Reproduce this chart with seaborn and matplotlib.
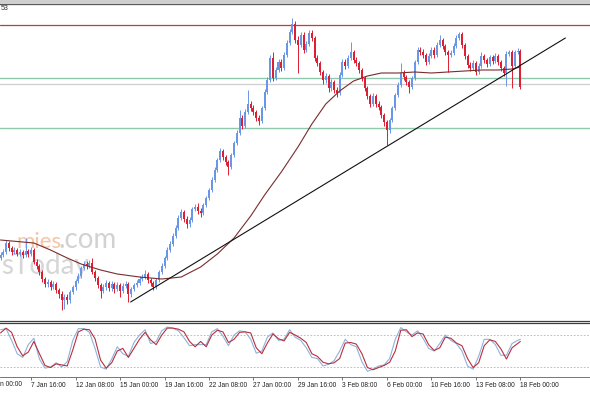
import numpy as np
import pandas as pd
import seaborn as sns
import matplotlib
matplotlib.use("Agg")
import matplotlib.pyplot as plt
from matplotlib.patches import Rectangle
from matplotlib.transforms import ScaledTranslation

# ---------------- data (price in chart points, 4H candles) ----------------
first_open = 62
closes = [65, 68, 77, 72, 68, 70, 66, 68, 65, 69,
          66, 70, 58, 54, 48, 41, 36, 38, 33, 36,
          30, 26, 20, 23, 20, 28, 33, 39, 44, 52,
          56, 54, 57, 48, 42, 35, 29, 33, 37, 32,
          36, 31, 35, 29, 34, 36, 26, 31, 35, 37,
          41, 43, 46, 40, 37, 33, 40, 48, 54, 62,
          70, 76, 84, 92, 102, 108, 101, 96, 100, 111,
          113, 109, 107, 115, 122, 130, 140, 150, 160, 169,
          163, 158, 153, 165, 177, 187, 202, 194, 208, 216,
          212, 208, 202, 199, 212, 228, 240, 262, 242, 250,
          258, 252, 265, 277, 288, 296, 280, 275, 285, 270,
          276, 287, 282, 262, 257, 248, 240, 244, 232, 238,
          230, 227, 245, 258, 254, 262, 268, 260, 257, 250,
          242, 232, 224, 216, 224, 216, 213, 205, 198, 190,
          200, 212, 225, 235, 247, 243, 238, 233, 242, 258,
          270, 268, 265, 258, 264, 270, 265, 275, 280, 274,
          268, 265, 267, 274, 282, 286, 275, 264, 255, 252,
          257, 248, 254, 264, 260, 256, 263, 259, 264, 258,
          252, 247, 266, 268, 254, 268, 269, 233]
highs = [68, 71, 80, 79, 74, 73, 72, 71, 70, 82,
         71, 73, 72, 61, 56, 50, 43, 41, 40, 39,
         38, 32, 29, 26, 26, 30, 35, 41, 47, 54,
         59, 59, 60, 62, 50, 44, 37, 36, 40, 39,
         39, 38, 38, 37, 37, 39, 38, 33, 37, 40,
         44, 46, 50, 48, 42, 39, 42, 50, 57, 64,
         73, 79, 87, 95, 105, 111, 110, 104, 103, 113,
         116, 117, 112, 117, 124, 132, 143, 153, 162, 172,
         171, 165, 160, 167, 179, 190, 210, 205, 211, 230,
         219, 215, 210, 205, 214, 231, 243, 265, 268, 253,
         261, 261, 268, 280, 291, 302, 299, 284, 288, 288,
         279, 290, 290, 284, 265, 259, 250, 247, 246, 241,
         240, 233, 248, 261, 261, 265, 278, 270, 263, 259,
         252, 244, 234, 226, 227, 226, 219, 215, 207, 200,
         202, 214, 227, 238, 257, 250, 245, 240, 244, 260,
         273, 273, 271, 267, 267, 273, 273, 278, 285, 282,
         276, 270, 270, 277, 285, 288, 288, 277, 266, 258,
         260, 259, 257, 268, 266, 262, 265, 265, 267, 266,
         260, 254, 269, 270, 270, 270, 272, 271]
lows = [60, 63, 66, 69, 65, 66, 64, 64, 62, 63,
        63, 64, 56, 51, 45, 38, 33, 33, 30, 31,
        27, 22, 10, 11, 16, 17, 26, 30, 37, 42,
        50, 51, 52, 46, 39, 32, 22, 27, 30, 29,
        29, 27, 29, 23, 27, 32, 18, 23, 29, 33,
        35, 39, 41, 37, 34, 30, 31, 38, 46, 52,
        60, 68, 74, 82, 90, 100, 98, 92, 93, 98,
        109, 106, 103, 105, 113, 120, 128, 138, 148, 158,
        160, 155, 145, 151, 163, 175, 185, 191, 192, 206,
        209, 205, 199, 195, 197, 210, 226, 238, 239, 240,
        248, 249, 250, 263, 275, 286, 277, 247, 273, 267,
        268, 274, 279, 259, 254, 245, 236, 237, 228, 229,
        227, 223, 225, 243, 251, 252, 260, 257, 254, 247,
        239, 229, 221, 213, 214, 213, 210, 202, 194, 175,
        187, 198, 210, 223, 233, 240, 235, 227, 231, 240,
        256, 265, 262, 255, 256, 262, 262, 263, 273, 271,
        265, 248, 263, 265, 272, 280, 272, 261, 252, 249,
        250, 245, 246, 252, 257, 253, 254, 256, 257, 255,
        249, 244, 234, 264, 232, 252, 266, 231]

# moving average
ma_idx = [0, 4, 12, 18, 24, 29, 36, 42, 50, 58, 65, 72, 78, 84, 90, 95, 101,
          107, 112, 117, 122, 127, 132, 137, 143, 149, 155, 161, 167, 173, 179,
          184, 187]
ma_val = [80, 79, 77, 70, 62, 56, 50, 46, 43, 41, 43, 53, 66, 82, 104, 125, 148,
          173, 196, 216, 229, 239, 244, 247, 247, 248, 247, 248, 249, 250, 250,
          251, 253]

# trend line and horizontal levels
trend_x = [46.8, 203.2]
trend_y = [18, 282]
level_red = 295
level_green = [242, 192]
level_grey = 236

# stochastic oscillator
stoch_idx = list(range(0, 188, 2)) + [187]
stoch_main = [90, 92, 70, 45, 38, 62, 74, 35, 18, 20,
              28, 20, 30, 70, 92, 92, 85, 55, 20, 16,
              35, 58, 45, 40, 66, 80, 90, 64, 68, 88,
              95, 93, 88, 75, 60, 62, 62, 62, 86, 92,
              78, 60, 80, 88, 86, 72, 46, 50, 76, 84,
              70, 72, 90, 76, 70, 56, 38, 36, 22, 25,
              32, 50, 72, 62, 58, 30, 12, 16, 22, 24,
              36, 72, 94, 86, 80, 88, 74, 55, 50, 64,
              80, 70, 64, 50, 22, 16, 40, 72, 72, 62,
              42, 42, 64, 70, 72]
stoch_signal = [84, 93, 85, 58, 41, 48, 68, 45, 23, 19,
                26, 24, 22, 52, 86, 91, 90, 73, 33, 18,
                28, 50, 55, 38, 55, 72, 85, 71, 62, 80,
                93, 93, 91, 86, 68, 58, 68, 58, 80, 89,
                86, 66, 72, 85, 86, 84, 56, 45, 65, 82,
                73, 69, 85, 80, 74, 66, 45, 40, 29, 26,
                28, 36, 65, 66, 63, 45, 19, 15, 19, 23,
                29, 50, 89, 90, 77, 84, 82, 62, 51, 56,
                76, 74, 65, 60, 36, 19, 28, 60, 71, 68,
                54, 35, 56, 64, 68]
stoch_levels = [80, 20]

tick_idx = [11, 27, 43, 59, 75, 91, 107, 123, 139, 155, 171, 187]
tick_labels = ["7 Jan 16:00", "12 Jan 08:00", "15 Jan 00:00",
               "19 Jan 16:00", "22 Jan 08:00", "27 Jan 00:00", "29 Jan 16:00",
               "3 Feb 08:00", "6 Feb 00:00", "10 Feb 16:00", "13 Feb 08:00",
               "18 Feb 00:00"]
edge_label = "n 00:00"          # visible tail of the "5 Jan 00:00" label
header_text = "53"              # visible tail of the header price
watermark_a = "mies"
watermark_b = ".com"
watermark_c = "sToday"

# ---------------- figure ----------------
sns.set_theme(style="white")
plt.rcParams['font.family'] = ['Liberation Sans', 'DejaVu Sans']

W, H = 590, 393
fig = plt.figure(figsize=(W / 100, H / 100), dpi=100, facecolor="white")


def fy(py):
    return 1 - py / H


ax = fig.add_axes([0, fy(321), 1, (321 - 3.5) / H])
axs = fig.add_axes([0, fy(377), 1, (377 - 323) / H])

df = pd.DataFrame({"close": closes, "high": highs, "low": lows})
df["idx"] = np.arange(len(df))
df["open"] = [first_open] + closes[:-1]
df["up"] = df["close"] >= df["open"]
blue, red = "#6a96e8", "#dc1f33"
cols = np.where(df["up"], blue, red)

XL = (-0.18, 212.05)

# watermark (behind candles)
ax.text(16 / W, fy(248), watermark_a, transform=fig.transFigure, ha="left",
        va="baseline", fontsize=16, color="#f6c4a2", zorder=0.5,
        family=["Lato", "DejaVu Sans"])
ax.text(58 / W, fy(248), watermark_b, transform=fig.transFigure, ha="left",
        va="baseline", fontsize=20, color="#d2d2d2", zorder=0.5,
        family=["Lato", "DejaVu Sans"])
ax.text(1 / W, fy(274), watermark_c, transform=fig.transFigure, ha="left",
        va="baseline", fontsize=20, color="#d6d6d6", zorder=0.5,
        family=["Lato", "DejaVu Sans"])

# horizontal levels
ax.axhline(level_red, color="#c8343f", lw=0.9, zorder=1)
for lv in level_green:
    ax.axhline(lv, color="#8ec8ae", lw=1.0, zorder=1)
ax.axhline(level_grey, color="#cfcfcf", lw=0.9, zorder=1)

# candles
ax.vlines(df["idx"], df["low"], df["high"], colors=cols, lw=0.7, zorder=2)
body = np.maximum((df["close"] - df["open"]).abs(), 0.8)
ax.bar(df["idx"], body, bottom=np.minimum(df["open"], df["close"]),
       width=0.72, color=cols, linewidth=0, zorder=3)

# moving average and trend line
sns.lineplot(x=ma_idx, y=ma_val, ax=ax, color="#7a2c2c", lw=0.8, zorder=4)
ax.plot(trend_x, trend_y, color="#111111", lw=0.8, zorder=4)

ax.set_xlim(*XL)
ax.set_ylim(-1, 316.5)
ax.set_xticks([])
ax.set_yticks([])
for s in ["left", "right"]:
    ax.spines[s].set_visible(False)
for s in ["top", "bottom"]:
    ax.spines[s].set_color("#404040")
    ax.spines[s].set_linewidth(0.9)

# stochastic panel
for lv in stoch_levels:
    axs.axhline(lv, color="#b4b4b4", lw=0.6, ls=(0, (2, 2)), zorder=1)
sns.lineplot(x=stoch_idx, y=stoch_main, ax=axs, color="#8fb2dc", lw=0.8, zorder=2)
sns.lineplot(x=stoch_idx, y=stoch_signal, ax=axs, color="#b8303c", lw=0.8, zorder=3)
axs.set_xlim(*XL)
axs.set_ylim(1.3, 102.6)
axs.set_yticks([])
axs.set_xticks(tick_idx)
axs.set_xticklabels(tick_labels, ha="left", fontsize=4.8, color="#202020")
shift = ScaledTranslation(1.2 / 100, 0, fig.dpi_scale_trans)
for lab in axs.get_xticklabels():
    lab.set_transform(lab.get_transform() + shift)
axs.tick_params(axis="x", length=2, width=0.5, pad=1.5, color="#404040", bottom=True)
axs.text(0.5 / W, -4.3 / 54, edge_label, transform=axs.transAxes, ha="left",
         va="top", fontsize=4.8, color="#202020")
for s in ["left", "right"]:
    axs.spines[s].set_visible(False)
axs.spines["top"].set_color("#404040")
axs.spines["top"].set_linewidth(0.9)
axs.spines["bottom"].set_color("#606060")
axs.spines["bottom"].set_linewidth(0.6)
axs.set_xlabel("")
axs.set_ylabel("")
ax.set_xlabel("")
ax.set_ylabel("")

# top window strip and header text tail
fig.patches.append(Rectangle((0, fy(3)), 1, 3 / H, transform=fig.transFigure,
                             color="#cfcfcf", zorder=0))
fig.text(0.5 / W, fy(10), header_text, ha="left", va="baseline",
         fontsize=5, color="#303030")

fig.savefig("out.png", dpi=100, facecolor="white")
